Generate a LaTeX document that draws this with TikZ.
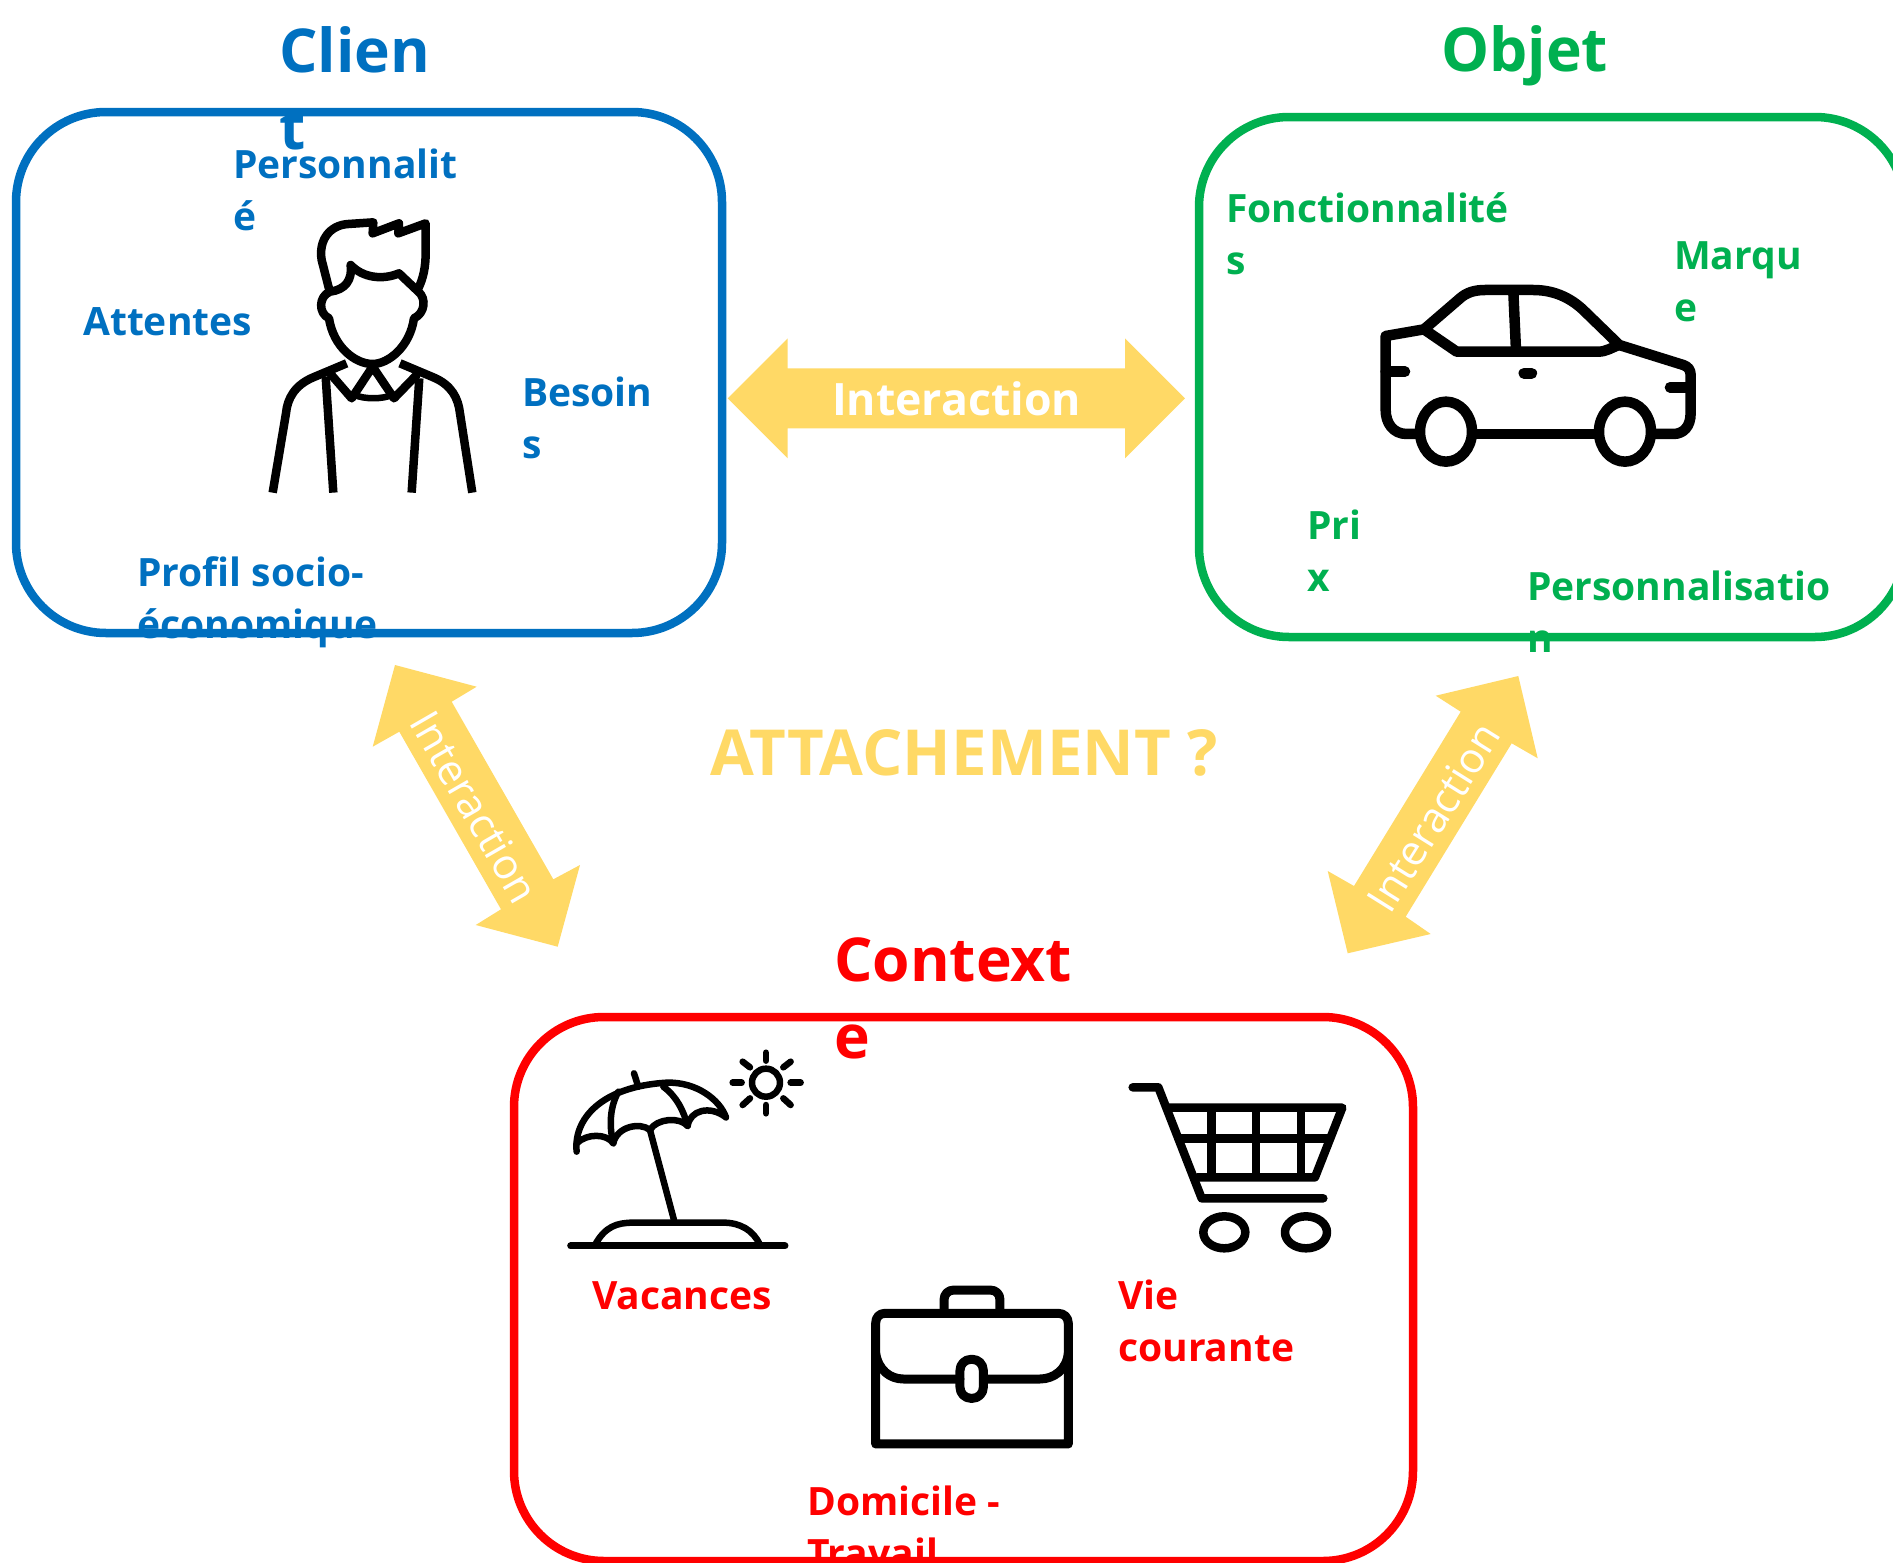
\documentclass[tikz,border=0pt]{standalone}
\usepackage{fontspec}
\setmainfont{Open Sans}
\definecolor{cblue}{HTML}{0070C0}
\definecolor{cgreen}{HTML}{00B050}
\definecolor{cred}{HTML}{FF0000}
\definecolor{cyel}{HTML}{FFD966}
\newcommand{\lblh}{30.2}
\newcommand{\lblone}{37.6}
\newcommand{\ttlh}{45.4}
\newcommand{\ttlone}{54.5}
\tikzset{
 panel/.style={draw=#1,line width=8.5pt,rounded corners=90pt,fill=none,inner sep=0pt,outer sep=0pt,anchor=north west},
 lbl/.style={text=#1,inner sep=0pt,anchor=north west,align=left,font=\fontsize{39}{52}\selectfont\bfseries,execute at begin node=\strut},
 ttl/.style={text=#1,inner sep=0pt,anchor=north west,align=left,font=\fontsize{60.5}{77}\selectfont\bfseries,execute at begin node=\strut},
 arrowshape/.style={fill=cyel,draw=none},
 arrowtextdiag/.style={text=white,inner sep=0pt,font=\fontsize{42}{48}\selectfont},
 icon/.style={draw=black,line cap=round,line join=round,fill=none},
}
\begin{document}
\begin{tikzpicture}[x=1pt,y=-1pt]
\clip (0,0) rectangle (1893,1563);
\useasboundingbox (0,0) rectangle (1893,1563);
% panels
\node[panel=cblue,minimum width=706pt,minimum height=521pt] (clientbox) at (16,112) {};
\node[panel=cgreen,minimum width=706pt,minimum height=520pt] (objetbox) at (1199,117) {};
\node[panel=cred,minimum width=899pt,minimum height=544pt] (contextbox) at (514,1017) {};
% arrows
\fill[arrowshape] (727.7,398.3)--(787.7,338.3)--(787.7,368.3)--(1125,368.3)--(1125,338.3)--(1185,398.3)--(1125,458.3)--(1125,428.3)--(787.7,428.3)--(787.7,458.3)--cycle;
\node[text=white,inner sep=0pt,font=\fontsize{44.6}{50}\selectfont\bfseries] (ihoriz) at (956.5,399) {Interaction};
\fill[arrowshape] (395,665)--(476.7,686.7)--(451.7,701.7)--(553.3,879.3)--(580,865)--(557.7,946.7)--(475.7,925)--(501,909.3)--(399.3,731.7)--(372.7,746.7)--cycle;
\node[arrowtextdiag,rotate=-60] (ileft) at (475,807) {Interaction};
\fill[arrowshape] (1518.3,676)--(1537.7,758.3)--(1511.7,743.3)--(1405.7,916.7)--(1430.7,934)--(1347.7,953.3)--(1327.7,871)--(1354,886)--(1460.7,711.7)--(1435.7,695.7)--cycle;
\node[arrowtextdiag,rotate=58] (iright) at (1433.5,817) {Interaction};
\node[text=cyel,inner sep=0pt,anchor=base west,font=\fontsize{63.5}{70}\selectfont\bfseries] (attach) at (710,775) {ATTACHEMENT ?};
% person
\begin{scope}[shift={(230,190)},x=0.3333pt,y=-0.3333pt,line width=8.5pt]
\draw[icon] (298,300) -- (275,210) .. controls (265,150) and (300,105) .. (355,102) -- (430,97) -- (428,130) -- (507,100) -- (505,130) -- (587,100) -- (587,190) .. controls (587,230) and (580,265) .. (565,295);
\draw[icon] (300,305) .. controls (345,300) and (368,270) .. (362,225) .. controls (400,265) and (460,270) .. (507,250) -- (565,305) .. controls (590,325) and (585,370) .. (552,385) .. controls (540,470) and (475,522) .. (428,522) .. controls (375,522) and (310,470) .. (297,385) .. controls (265,370) and (265,320) .. (300,305);
\draw[icon,line cap=butt] (350,520) -- (250,562) .. controls (195,585) and (172,625) .. (168,670) -- (128,908);
\draw[icon,line cap=butt] (510,520) -- (610,562) .. controls (665,585) and (685,625) .. (690,670) -- (727,908);
\draw[icon] (300,550) -- (365,625) -- (428,530) -- (492,625) -- (560,555);
\draw[icon,line width=6.5pt] (375,615) .. controls (400,628) and (460,628) .. (485,615);
\draw[icon,line cap=butt] (287,560) -- (310,908);
\draw[icon,line cap=butt] (568,565) -- (545,908);
\end{scope}
% car
\begin{scope}[shift={(1350,260)},x=0.3333pt,y=-0.3333pt,line width=10.5pt]
\draw[icon] (200,522) -- (170,522) .. controls (130,522) and (107,490) .. (107,450) -- (107,228) -- (222,208) -- (330,115) .. controls (350,97) and (375,90) .. (405,90) -- (550,90) .. controls (620,90) and (670,120) .. (705,155) -- (808,255) -- (1000,315) .. controls (1015,320) and (1022,330) .. (1022,345) -- (1022,460) .. controls (1022,500) and (1000,522) .. (970,522) -- (910,522);
\draw[icon] (370,522) -- (745,522);
\draw[icon] (222,208) -- (320,275) -- (745,275) .. controls (770,275) and (785,262) .. (808,255);
\draw[icon] (490,95) -- (498,270);
\draw[icon] (107,335) -- (165,335);
\draw[icon] (1022,382) -- (960,382);
\draw[icon,line width=11pt] (522,340) -- (545,340);
\draw[icon] (288,515) ellipse [x radius=78,y radius=90];
\draw[icon] (825,515) ellipse [x radius=78,y radius=90];
\end{scope}
% beach
\begin{scope}[shift={(550,1030)},x=0.3333pt,y=-0.3333pt,line width=6.5pt]
\draw[icon] (80,365) .. controls (70,270) and (150,170) .. (350,158) .. controls (440,155) and (510,210) .. (528,262);
\draw[icon] (80,340) .. controls (110,310) and (170,310) .. (190,340) .. controls (200,290) and (270,275) .. (300,300) .. controls (320,265) and (390,260) .. (413,288) .. controls (420,240) and (480,225) .. (528,262);
\draw[icon] (205,185) .. controls (175,240) and (180,300) .. (190,340);
\draw[icon] (340,170) .. controls (380,200) and (400,240) .. (413,288);
\draw[icon] (252,130) -- (265,170);
\draw[icon] (300,300) -- (372,570);
\draw[icon] (135,645) .. controls (165,590) and (200,578) .. (250,578) -- (520,578) .. controls (570,578) and (610,600) .. (630,645);
\draw[icon,line width=7pt] (62,648) -- (705,648);
\draw[icon] (648,158) circle [radius=42];
\foreach \a/\b/\c/\d in {648/68/648/92,648/225/648/250,548/158/575/158,722/158/752/158,578/95/600/112,722/95/700/112,578/225/600/205,722/225/700/205}{
 \draw[icon] (\a,\b) -- (\c,\d);}
\end{scope}
% cart
\begin{scope}[shift={(1110,1060)},x=0.3333pt,y=-0.3333pt,line width=8.5pt]
\draw[icon] (68,82) -- (145,82) -- (275,415) -- (640,415);
\draw[icon] (172,143) -- (697,143) -- (615,352) -- (262,352);
\draw[icon] (205,235) -- (660,235);
\draw[icon,line cap=butt] (305,143) -- (305,352);
\draw[icon,line cap=butt] (438,143) -- (438,352);
\draw[icon,line cap=butt] (573,143) -- (573,352);
\draw[icon] (343,517) ellipse [x radius=63,y radius=48];
\draw[icon] (588,517) ellipse [x radius=63,y radius=48];
\end{scope}
% briefcase
\begin{scope}[shift={(850,1270)},x=0.3333pt,y=-0.3333pt,line width=9pt]
\draw[icon] (77,522) -- (77,160) .. controls (77,142) and (88,130) .. (105,130) -- (625,130) .. controls (642,130) and (655,142) .. (655,160) -- (655,522) -- cycle;
\draw[icon] (77,250) .. controls (85,300) and (120,327) .. (160,327) -- (330,327);
\draw[icon] (405,327) -- (570,327) .. controls (610,327) and (650,300) .. (655,250);
\draw[icon,rounded corners=11pt] (330,268) rectangle (400,385);
\draw[icon] (282,130) -- (282,90) .. controls (282,72) and (295,60) .. (312,60) -- (420,60) .. controls (438,60) and (450,72) .. (450,90) -- (450,130);
\end{scope}
% labels
\node[ttl=cblue] (tclient) at (279,72-\ttlh) {Clien\\t};
\node[lbl=cblue] (lperso) at (233,179-\lblh) {Personnalit\\é};
\node[lbl=cblue] (latt) at (83,336-\lblone) {Attentes};
\node[lbl=cblue] (lbes) at (522,407-\lblh) {Besoin\\s};
\node[lbl=cblue] (lprof) at (137,587-\lblh) {Profil socio-\\économique};
\node[ttl=cgreen] (tobjet) at (1441,72-\ttlone) {Objet};
\node[lbl=cgreen] (lfonc) at (1226,223-\lblh) {Fonctionnalité\\s};
\node[lbl=cgreen] (lmarq) at (1674,272-\lblh) {Marqu\\e};
\node[lbl=cgreen] (lprix) at (1307,540-\lblh) {Pri\\x};
\node[lbl=cgreen] (lpers) at (1527,601-\lblh) {Personnalisatio\\n};
\node[ttl=cred] (tcont) at (834,983-\ttlh) {Context\\e};
\node[lbl=cred] (lvac) at (592,1310-\lblone) {Vacances};
\node[lbl=cred] (lvie) at (1118,1310-\lblh) {Vie\\courante};
\node[lbl=cred] (ldom) at (807,1516-\lblh) {Domicile -\\Travail};
\end{tikzpicture}
\end{document}
